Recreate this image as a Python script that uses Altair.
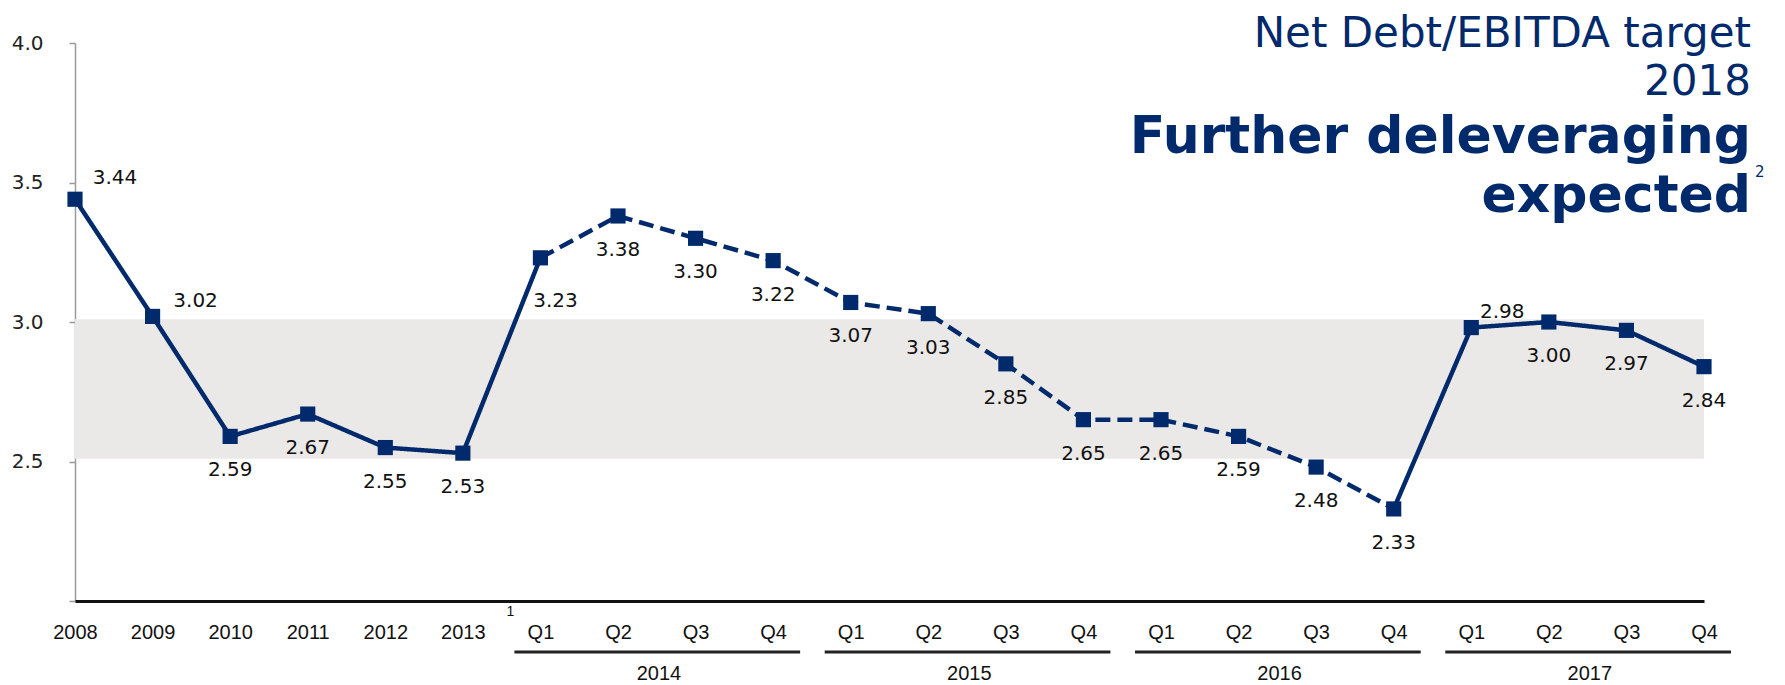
import altair as alt
import pandas as pd

# ---------------- data ----------------
periods = ["2008", "2009", "2010", "2011", "2012", "2013",
           "2014 Q1", "2014 Q2", "2014 Q3", "2014 Q4",
           "2015 Q1", "2015 Q2", "2015 Q3", "2015 Q4",
           "2016 Q1", "2016 Q2", "2016 Q3", "2016 Q4",
           "2017 Q1", "2017 Q2", "2017 Q3", "2017 Q4"]
ratios = [3.44, 3.02, 2.59, 2.67, 2.55, 2.53,
          3.23, 3.38, 3.30, 3.22,
          3.07, 3.03, 2.85, 2.65,
          2.65, 2.59, 2.48, 2.33,
          2.98, 3.00, 2.97, 2.84]
# style of the link from each point to the next one
link_styles = ["solid", "solid", "solid", "solid", "solid", "solid",
               "dashed", "dashed", "dashed", "dashed", "dashed", "dashed",
               "dashed", "dashed", "dashed", "dashed", "dashed",
               "solid", "solid", "solid", "solid"]
# where each value label sits relative to its point
label_places = ["upright_far", "right", "below", "below", "below", "below",
                "belowright", "below", "below", "below",
                "below", "below", "below", "below",
                "below", "below", "below", "below",
                "upright", "below", "below", "below"]
year_groups = ["2014", "2015", "2016", "2017"]
target_band = [2.51, 3.01]
title_lines = ["Net Debt/EBITDA target", "2018", "Further deleveraging", "expected"]

NAVY = "#002a6b"
W, H = 1629, 558

# ---------------- tables ----------------
points = pd.DataFrame({"period": periods, "ratio": ratios,
                       "label": [f"{v:.2f}" for v in ratios],
                       "place": label_places})

runs = []
for i, st in enumerate(link_styles):
    if not runs or runs[-1]["style"] != st:
        runs.append({"style": st, "pts": [i]})
    runs[-1]["pts"].append(i + 1)
line_rows = []
for r, run in enumerate(runs):
    for j in run["pts"]:
        line_rows.append({"period": periods[j], "ratio": ratios[j],
                          "run": r, "style": run["style"], "order": j})
lines = pd.DataFrame(line_rows)

band = pd.DataFrame({"start": [periods[0]], "end": [periods[-1]],
                     "lo": [target_band[0]], "hi": [target_band[1]]})

groups = pd.DataFrame({
    "year": year_groups,
    "q1": [y + " Q1" for y in year_groups],
    "q2": [y + " Q2" for y in year_groups],
    "q4": [y + " Q4" for y in year_groups],
})

# ---------------- scales / axes ----------------
xscale = alt.Scale(type="point", domain=periods, padding=0)
yscale = alt.Scale(domain=[2, 4], nice=False, zero=False)
xaxis = alt.Axis(title=None, labelAngle=0,
                 labelExpr="length(split(datum.label, ' ')) > 1 ? split(datum.label, ' ')[1] : datum.label",
                 labelFont="Liberation Sans", labelFontSize=20, labelColor="#111",
                 ticks=False, tickSize=0, domainColor="#111", domainWidth=3,
                 labelPadding=31, labelBaseline="middle", grid=False)
yaxis = alt.Axis(title=None, values=[2, 2.5, 3, 3.5, 4],
                 labelExpr="datum.value == 2 ? '' : format(datum.value, '.1f')",
                 grid=False, domainColor="#9a9a9a", domainWidth=1.5,
                 tickColor="#9a9a9a", tickSize=6, tickWidth=1.5,
                 labelFont="DejaVu Sans", labelFontSize=20, labelColor="#222",
                 labelPadding=26)


def X(field):
    return alt.X(f"{field}:O", scale=xscale, axis=xaxis)


def Y(field):
    return alt.Y(f"{field}:Q", scale=yscale, axis=yaxis)


# ---------------- layers ----------------
band_layer = alt.Chart(band).mark_rect(color="#ebe9e8").encode(
    x=X("start"), x2="end", y=Y("lo"), y2="hi")

line_layer = alt.Chart(lines).mark_line(color=NAVY, strokeWidth=4.5).encode(
    x=X("period"), y=Y("ratio"), detail="run:N", order="order:Q",
    strokeDash=alt.StrokeDash("style:N", legend=None,
                              scale=alt.Scale(domain=["solid", "dashed"],
                                              range=[[1, 0], [15, 7]])))

square_layer = alt.Chart(points).mark_square(size=230, color=NAVY, opacity=1).encode(
    x=X("period"), y=Y("ratio"))

label_style = dict(font="DejaVu Sans", fontSize=20, color="#111", baseline="middle")
offsets = {"below": (0, 34), "upright_far": (40, -21), "right": (43, -15),
           "upright": (31, -16), "belowright": (15, 43)}
label_layers = []
for place, (dx, dy) in offsets.items():
    label_layers.append(
        alt.Chart(points).transform_filter(alt.datum.place == place)
        .mark_text(dx=dx, dy=dy, align="center", **label_style)
        .encode(x=X("period"), y=Y("ratio"), text="label:N"))

underline_layer = alt.Chart(groups).mark_rule(
    color="#222", strokeWidth=3, xOffset=-26, x2Offset=27).encode(
    x=X("q1"), x2="q4", y=alt.value(609))

year_layer = alt.Chart(groups).mark_text(
    font="Liberation Sans", fontSize=20, color="#111", baseline="middle",
    align="center", dx=41).encode(x=X("q2"), y=alt.value(631), text="year:N")

foot1 = alt.Chart(pd.DataFrame({"t": ["1"]})).mark_text(
    font="Liberation Sans", fontSize=14, color="#111", baseline="middle",
    dx=-30).encode(x=alt.X("p:O", scale=xscale, axis=xaxis),
                   y=alt.value(569), text="t:N").transform_calculate(p="'2014 Q1'")

title_specs = [(title_lines[0], 4, 42, "normal"),
               (title_lines[1], 52, 42, "normal"),
               (title_lines[2], 110, 52, "bold"),
               (title_lines[3], 169, 52, "bold")]
title_layers = []
for txt, yb, fs, fw in title_specs:
    title_layers.append(
        alt.Chart(pd.DataFrame({"t": [txt]})).mark_text(
            font="DejaVu Sans", fontSize=fs, fontWeight=fw, color=NAVY,
            align="right", baseline="alphabetic")
        .encode(x=alt.value(1676), y=alt.value(yb), text="t:N"))

sup2 = alt.Chart(pd.DataFrame({"t": ["2"]})).mark_text(
    font="DejaVu Sans", fontSize=15, color=NAVY, align="left", baseline="middle"
).encode(x=alt.value(1680), y=alt.value(129), text="t:N")

chart = alt.layer(
    band_layer, line_layer, square_layer, *label_layers,
    underline_layer, year_layer, foot1, *title_layers, sup2
).properties(
    width=W, height=H,
    autosize=alt.AutoSizeParams(type="none"),
    padding={"left": 67, "top": 35, "right": 60, "bottom": 82},
).configure_view(stroke=None)

chart.save("out.html", embed_options={"renderer": "svg", "actions": False})
